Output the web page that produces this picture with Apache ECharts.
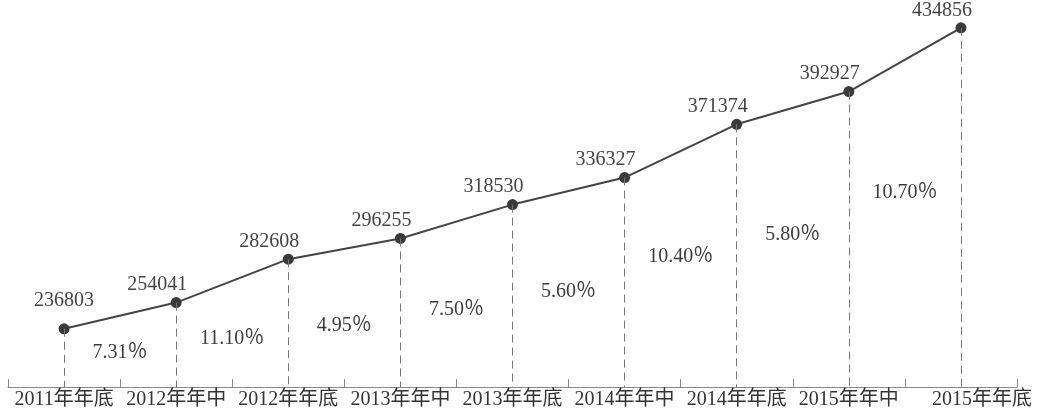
<!DOCTYPE html>
<html>
<head>
<meta charset="utf-8">
<script src="https://cdn.jsdelivr.net/npm/echarts@6/dist/echarts.min.js"></script>
<style>
  html, body { margin: 0; padding: 0; background: #fff; }
  #chart { width: 1039px; height: 413px; }
</style>
</head>
<body>
<div id="chart"></div>
<script>
// Period labels along the bottom axis
const periods = ['2011年年底', '2012年年中', '2012年年底', '2013年年中', '2013年年底',
                 '2014年年中', '2014年年底', '2015年年中', '2015年年底'];
// Total at each period
const totals = [236803, 254041, 282608, 296255, 318530, 336327, 371374, 392927, 434856];
// Growth rate (%) between consecutive periods
const growth = [7.31, 11.10, 4.95, 7.50, 5.60, 10.40, 5.80, 10.70];

// Vertical placement of each growth label (in value-axis units)
const growthLabelAt = [220900, 230100, 238600, 249200, 261000, 284000, 298500, 326200];

const Y_MIN = 198500, Y_MAX = 440000;
const FONT = "'Liberation Serif', 'Noto Sans CJK SC', serif";

const chart = echarts.init(document.getElementById('chart'), null, { renderer: 'canvas' });

const axisData = periods.map((p, i) => i === periods.length - 1
  ? { value: p, textStyle: { padding: [0, 0, 0, 42] } }
  : p);

const lineData = totals.map((v, i) => i === 0
  ? { value: v, label: { offset: [0, -11] } }
  : v);

// Dashed drop line from every point down to the axis
const dropLines = totals.map((v, i) => [
  { coord: [i, v] },
  { coord: [i, Y_MIN] }
]);

// Growth labels sit on the boundary between two periods
const growthPoints = growth.map((g, i) => [i + 0.5, growthLabelAt[i], g]);

chart.setOption({
  animation: false,
  backgroundColor: '#ffffff',
  grid: { left: 8, right: 22, top: 20, bottom: 26 },
  xAxis: [{
    type: 'category',
    data: axisData,
    boundaryGap: true,
    axisLine: { lineStyle: { color: '#8a8a8a', width: 1 } },
    axisTick: { show: true, inside: true, length: 8, lineStyle: { color: '#8a8a8a' } },
    axisLabel: { interval: 0, hideOverlap: false, margin: 3, fontSize: 20, color: '#333', fontFamily: FONT },
    splitLine: { show: false }
  }, {
    type: 'value',
    min: -0.5,
    max: periods.length - 0.5,
    show: false
  }],
  yAxis: {
    type: 'value',
    min: Y_MIN,
    max: Y_MAX,
    show: false,
    splitLine: { show: false }
  },
  series: [{
    type: 'line',
    data: lineData,
    symbol: 'circle',
    symbolSize: 11,
    itemStyle: { color: '#3a3a3a' },
    lineStyle: { color: '#444', width: 2 },
    label: {
      show: true,
      position: 'top',
      distance: 2,
      offset: [-19, 0],
      fontSize: 20,
      color: '#444',
      fontFamily: FONT
    },
    markLine: {
      silent: true,
      symbol: ['none', 'none'],
      label: { show: false },
      lineStyle: { color: '#777', width: 1, type: [8, 5] },
      data: dropLines
    },
    z: 3
  }, {
    type: 'scatter',
    xAxisIndex: 1,
    data: growthPoints,
    symbolSize: 0,
    itemStyle: { opacity: 1 },
    label: {
      show: true,
      position: 'inside',
      formatter: p => p.data[2].toFixed(2) + '％',
      fontSize: 20,
      color: '#3c3c3c',
      opacity: 1,
      fontFamily: FONT
    }
  }]
});
</script>
</body>
</html>
